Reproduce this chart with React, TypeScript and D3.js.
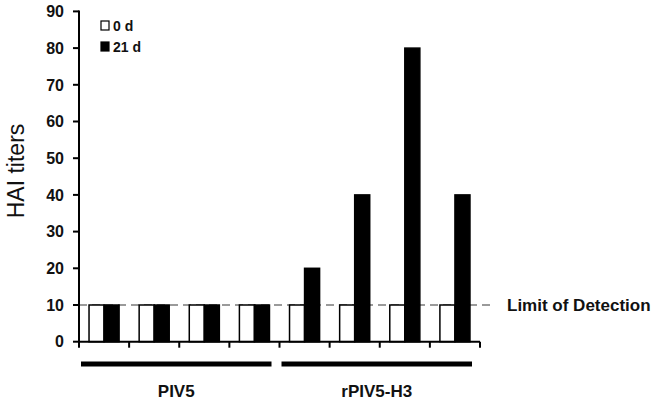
import React from "react";
import * as d3 from "d3";

const samples = ["s1", "s2", "s3", "s4", "s5", "s6", "s7", "s8"];
const seriesNames = ["0 d", "21 d"];
const day0 = [10, 10, 10, 10, 10, 10, 10, 10];
const day21 = [10, 10, 10, 10, 20, 40, 80, 40];
const groups = [
  { name: "PIV5", from: 0, to: 3 },
  { name: "rPIV5-H3", from: 4, to: 7 },
];
const yTicks = [0, 10, 20, 30, 40, 50, 60, 70, 80, 90];
const limitValue = 10;
const limitLabel = "Limit of Detection";
const yLabel = "HAI titers";

const W = 658;
const H = 404;
const font = "'Liberation Sans', Arial, sans-serif";

export default function App() {
  const x = d3.scaleBand<string>().domain(samples).range([79, 480]).paddingInner(0).paddingOuter(0);
  const xi = d3.scaleBand<string>().domain(seriesNames).range([0, x.bandwidth()]).paddingInner(0).paddingOuter(0.667);
  const y = d3.scaleLinear().domain([0, 90]).range([341.7, 11.4]);
  const values = [day0, day21];
  const fills = ["#ffffff", "#000000"];
  const boundaries = samples.map((s) => x(s)!).concat([x.range()[1]]);

  return (
    <svg width={W} height={H} style={{ position: "fixed", left: 0, top: 0, background: "#fff" }} fontFamily={font}>
      <rect x={0} y={0} width={W} height={H} fill="#fff" />
      {/* limit of detection line */}
      <line x1={79} x2={490} y1={y(limitValue)} y2={y(limitValue)} stroke="#9a9a9a" strokeWidth={2} strokeDasharray="8,5" />
      <text x={507} y={y(limitValue)} dy="0.36em" fontSize={17} fontWeight="bold" fill="#111">{limitLabel}</text>
      {/* bars */}
      {samples.map((s, i) =>
        seriesNames.map((sn, j) => {
          const v = values[j][i];
          const bx = x(s)! + xi(sn)!;
          return (
            <rect
              key={s + sn}
              x={bx}
              y={y(v)}
              width={xi.bandwidth()}
              height={y(0) - y(v)}
              fill={fills[j]}
              stroke="#000"
              strokeWidth={1.5}
            />
          );
        })
      )}
      {/* y axis */}
      <line x1={79} x2={79} y1={y(90) - 1} y2={y(0)} stroke="#000" strokeWidth={2} />
      {yTicks.map((t) => (
        <g key={t}>
          <line x1={73} x2={79} y1={y(t)} y2={y(t)} stroke="#000" strokeWidth={2} />
          <text x={64} y={y(t)} dy="0.36em" textAnchor="end" fontSize={16} fontWeight="bold" fill="#111">
            {t}
          </text>
        </g>
      ))}
      {/* x axis */}
      <line x1={79} x2={480} y1={y(0)} y2={y(0)} stroke="#000" strokeWidth={2} />
      {boundaries.map((b, i) => (
        <line key={i} x1={b} x2={b} y1={y(0)} y2={y(0) + 6} stroke="#000" strokeWidth={2} />
      ))}
      {/* group lines */}
      {groups.map((g) => {
        const x1 = x(samples[g.from])! + 2;
        const x2 = x(samples[g.to])! + x.bandwidth() - 8;
        return (
          <g key={g.name}>
            <line x1={x1} x2={x2} y1={364} y2={364} stroke="#000" strokeWidth={5} />
            <text x={(x1 + x2) / 2} y={397} textAnchor="middle" fontSize={17} fontWeight="bold" fill="#111">
              {g.name}
            </text>
          </g>
        );
      })}
      {/* y label */}
      <text transform={`translate(24,171) rotate(-90)`} textAnchor="middle" fontSize={23} fill="#111">
        {yLabel}
      </text>
      {/* legend */}
      {seriesNames.map((sn, j) => (
        <g key={sn} transform={`translate(101,${21 + j * 21})`}>
          <rect x={0} y={0} width={8} height={9} fill={fills[j]} stroke="#000" strokeWidth={1.2} />
          <text x={12} y={10} fontSize={14} fontWeight="bold" fill="#111">
            {sn}
          </text>
        </g>
      ))}
    </svg>
  );
}
